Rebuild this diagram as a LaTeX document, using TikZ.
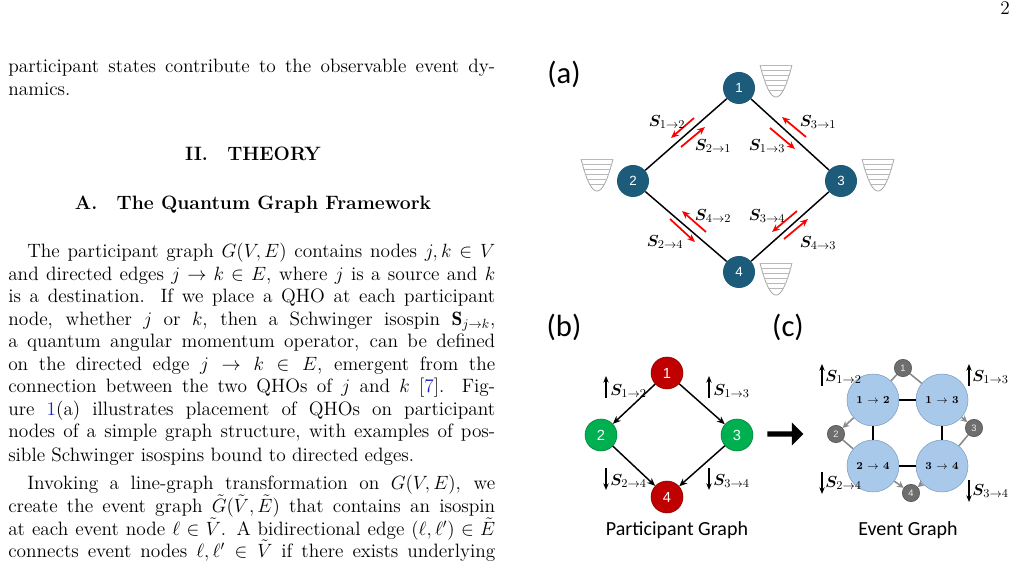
\documentclass[tikz,border=0pt]{standalone}
\usepackage{amsmath,amssymb,bm}
\usepackage{fontspec}
\newfontfamily\carl{Carlito}
\newfontfamily\ars{Liberation Sans}
\usetikzlibrary{arrows.meta,shapes.arrows}
\definecolor{teal1}{HTML}{1D5B7B}
\definecolor{redn}{HTML}{C00000}
\definecolor{grn}{HTML}{00B050}
\definecolor{blu}{HTML}{A9C9EA}
\definecolor{blue2}{HTML}{7A9CC0}
\definecolor{gry}{HTML}{6E6E6E}
\definecolor{linkb}{HTML}{1F1FCC}
\newcommand{\pline}[2]{\node[anchor=base west,inner sep=0] at (8,#1) {\makebox[365.25pt][s]{#2}};}
\newcommand{\plinel}[3]{\node[anchor=base west,inner sep=0] at (#1,#2) {#3};}
\begin{document}
\begin{tikzpicture}[x=0.75pt,y=-0.75pt,
  txt/.style={font=\fontsize{14.5}{17}\selectfont},
  pn/.style={circle,fill=teal1,minimum size=24pt,inner sep=0,text=white,font=\ars\fontsize{10}{10}\selectfont},
  rn/.style={circle,fill=redn,draw=redn!70!black,minimum size=24pt,inner sep=0,text=white,font=\ars\fontsize{11}{11}\selectfont},
  gn/.style={circle,fill=grn,draw=grn!70!black,minimum size=24pt,inner sep=0,text=white,font=\ars\fontsize{11}{11}\selectfont},
  en/.style={circle,fill=blu,draw=blue2,minimum size=39pt,inner sep=0,font=\bfseries\fontsize{8}{8}\selectfont},
  sn/.style={circle,fill=gry,draw=gry!70!black,minimum size=13pt,inner sep=0,text=white!85!gray,font=\ars\fontsize{7}{7}\selectfont},
  ra/.style={red,line width=1.3pt,-{Stealth[length=6pt,width=5pt]}},
  ga/.style={gry!80,line width=1.2pt,-{Stealth[length=5pt,width=5pt]}},
  gl/.style={gry!80,line width=1.2pt},
  va/.style={line width=0.9pt,-{Stealth[length=5pt,width=4pt]}},
  sl/.style={font=\fontsize{12.5}{12.5}\selectfont,inner sep=0},
  lab/.style={font=\carl\fontsize{23}{23}\selectfont,inner sep=0},
  well/.pic={
    \draw[gray!70,line width=0.6pt] plot[domain=-16:16,samples=30] (\x,{16-32*(\x/16)^2});
    \foreach \yy in {-16,-11,-6,-1,4,9}{
      \pgfmathsetmacro\hw{16*sqrt((16-\yy)/32)}
      \draw[gray!55,line width=0.5pt] (-\hw,\yy) -- (\hw,\yy);}
  }]
\useasboundingbox (0,0) rectangle (1029,577);
\fill[white] (0,0) rectangle (1029,577);
\begin{scope}[txt]
\node[anchor=base,inner sep=0] at (1005,15) {2};
\node[anchor=base west,inner sep=0] at (8,73) {\makebox[365.25pt][s]{participant states contribute to the observable event dy-}};
\plinel{8}{96}{namics.}
\node[anchor=base,inner sep=0] at (253,161) {\textbf{II.\quad THEORY}};
\node[anchor=base,inner sep=0] at (253,210) {\textbf{A.\quad The Quantum Graph Framework}};
\node[anchor=base west,inner sep=0] at (27,258) {\makebox[351pt][s]{The participant graph $G(V,E)$ contains nodes $j,k\in V$}};
\pline{281}{and directed edges $j\to k\in E$, where $j$ is a source and $k$}
\pline{303}{is a destination. If we place a QHO at each participant}
\pline{326}{node, whether $j$ or $k$, then a Schwinger isospin $\mathbf{S}_{j\to k}$,}
\pline{348}{a quantum angular momentum operator, can be defined}
\pline{371}{on the directed edge $j\to k\in E$, emergent from the}
\pline{393}{connection between the two QHOs of $j$ and $k$ [\textcolor{linkb}{7}]. Fig-}
\pline{416}{ure \textcolor{linkb}{1}(a) illustrates placement of QHOs on participant}
\pline{438}{nodes of a simple graph structure, with examples of pos-}
\plinel{8}{461}{sible Schwinger isospins bound to directed edges.}
\node[anchor=base west,inner sep=0] at (27,489) {\makebox[351pt][s]{Invoking a line-graph transformation on $G(V,E)$, we}};
\pline{512}{create the event graph $\tilde G(\tilde V,\tilde E)$ that contains an isospin}
\pline{535}{at each event node $\ell\in\tilde V$. A bidirectional edge $(\ell,\ell')\in\tilde E$}
\pline{557}{connects event nodes $\ell,\ell'\in\tilde V$ if there exists underlying}
\end{scope}
% (a)
\node[lab] at (564,74) {(a)};
\node[pn] (a1) at (739,88) {1};
\node[pn] (a2) at (633,181) {2};
\node[pn] (a3) at (841,181) {3};
\node[pn] (a4) at (739,272) {4};
\draw[line width=1.1pt] (a1)--(a2) (a1)--(a3) (a2)--(a4) (a3)--(a4);
\pic at (776,81) {well};
\pic at (597,175) {well};
\pic at (878,175) {well};
\pic at (776,279) {well};
\coordinate (p1s) at (694,118); \coordinate (p1e) at (671,138);
\coordinate (p2s) at (681,147); \coordinate (p2e) at (705,127);
\coordinate (p3s) at (770,128); \coordinate (p3e) at (795,149);
\coordinate (p4s) at (806,137); \coordinate (p4e) at (782,117);
\coordinate (p5s) at (706,232); \coordinate (p5e) at (682,211);
\coordinate (p6s) at (670,219); \coordinate (p6e) at (695,242);
\coordinate (p7s) at (797,211); \coordinate (p7e) at (772,232);
\coordinate (p8s) at (784,239); \coordinate (p8e) at (808,219);
\foreach \i in {1,...,8}{\draw[ra] (p\i s) -- (p\i e);}
\node[sl] at (667,122) {$\bm{S}_{1\to2}$};
\node[sl] at (713,146) {$\bm{S}_{2\to1}$};
\node[sl] at (818,122) {$\bm{S}_{3\to1}$};
\node[sl] at (767,146) {$\bm{S}_{1\to3}$};
\node[sl] at (713,216) {$\bm{S}_{4\to2}$};
\node[sl] at (665,242) {$\bm{S}_{2\to4}$};
\node[sl] at (767,216) {$\bm{S}_{3\to4}$};
\node[sl] at (818,243) {$\bm{S}_{4\to3}$};
% (b)
\node[lab] at (564,327) {(b)};
\node[rn] (b1) at (667,373) {1};
\node[gn] (b2) at (601,435) {2};
\node[gn] (b3) at (737,435) {3};
\node[rn] (b4) at (667,497) {4};
\draw[line width=1.1pt,-{Stealth[length=6pt,width=5pt]}] (b1)--(b2);
\draw[line width=1.1pt,-{Stealth[length=6pt,width=5pt]}] (b1)--(b3);
\draw[line width=1.1pt,-{Stealth[length=6pt,width=5pt]}] (b2)--(b4);
\draw[line width=1.1pt,-{Stealth[length=6pt,width=5pt]}] (b3)--(b4);
\coordinate (u1a) at (606,398); \coordinate (u1b) at (606,376);
\coordinate (u2a) at (709,398); \coordinate (u2b) at (709,376);
\coordinate (d1a) at (606,468); \coordinate (d1b) at (606,490);
\coordinate (d2a) at (709,468); \coordinate (d2b) at (709,490);
\draw[va] (u1a)--(u1b); \draw[va] (u2a)--(u2b);
\draw[va] (d1a)--(d1b); \draw[va] (d2a)--(d2b);
\node[sl,anchor=west] at (610,391) {$\bm{S}_{1\to2}$};
\node[sl,anchor=west] at (713,391) {$\bm{S}_{1\to3}$};
\node[sl,anchor=west] at (610,481) {$\bm{S}_{2\to4}$};
\node[sl,anchor=west] at (713,481) {$\bm{S}_{3\to4}$};
\node[font=\carl\fontsize{15}{15}\selectfont,inner sep=0] at (677,530) {Participant Graph};
\node[single arrow,fill=black,minimum height=27pt,minimum width=17pt,single arrow head extend=4pt,inner sep=1pt] (big) at (784,434) {};
% (c)
\node[lab] at (788,327) {(c)};
\node[en] (e12) at (873,400) {1 $\to$ 2};
\node[en] (e13) at (942,400) {1 $\to$ 3};
\node[en] (e24) at (873,466) {2 $\to$ 4};
\node[en] (e34) at (942,466) {3 $\to$ 4};
\draw[line width=1.3pt] (e12)--(e13) (e24)--(e34) (e12)--(e24) (e13)--(e34);
\node[sn] (c1) at (903,368) {1};
\node[sn] (c2) at (836,434) {2};
\node[sn] (c3) at (974,428) {3};
\node[sn] (c4) at (911,493) {4};
\draw[gl] (c1)--(e12); \draw[gl] (c1)--(e13);
\draw[ga] (e12)--(c2); \draw[gl] (c2)--(e24);
\draw[ga] (e13)--(c3); \draw[gl] (c3)--(e34);
\draw[ga] (e24)--(c4); \draw[ga] (e34)--(c4);
\coordinate (u3a) at (822,386); \coordinate (u3b) at (822,364);
\coordinate (u4a) at (969,386); \coordinate (u4b) at (969,364);
\coordinate (d3a) at (822,472); \coordinate (d3b) at (822,494);
\coordinate (d4a) at (969,480); \coordinate (d4b) at (969,502);
\draw[va] (u3a)--(u3b); \draw[va] (u4a)--(u4b);
\draw[va] (d3a)--(d3b); \draw[va] (d4a)--(d4b);
\node[sl,anchor=west] at (825,377) {$\bm{S}_{1\to2}$};
\node[sl,anchor=west] at (972,377) {$\bm{S}_{1\to3}$};
\node[sl,anchor=west] at (825,483) {$\bm{S}_{2\to4}$};
\node[sl,anchor=west] at (972,491) {$\bm{S}_{3\to4}$};
\node[font=\carl\fontsize{15}{15}\selectfont,inner sep=0] at (908,530) {Event Graph};
\end{tikzpicture}
\end{document}
